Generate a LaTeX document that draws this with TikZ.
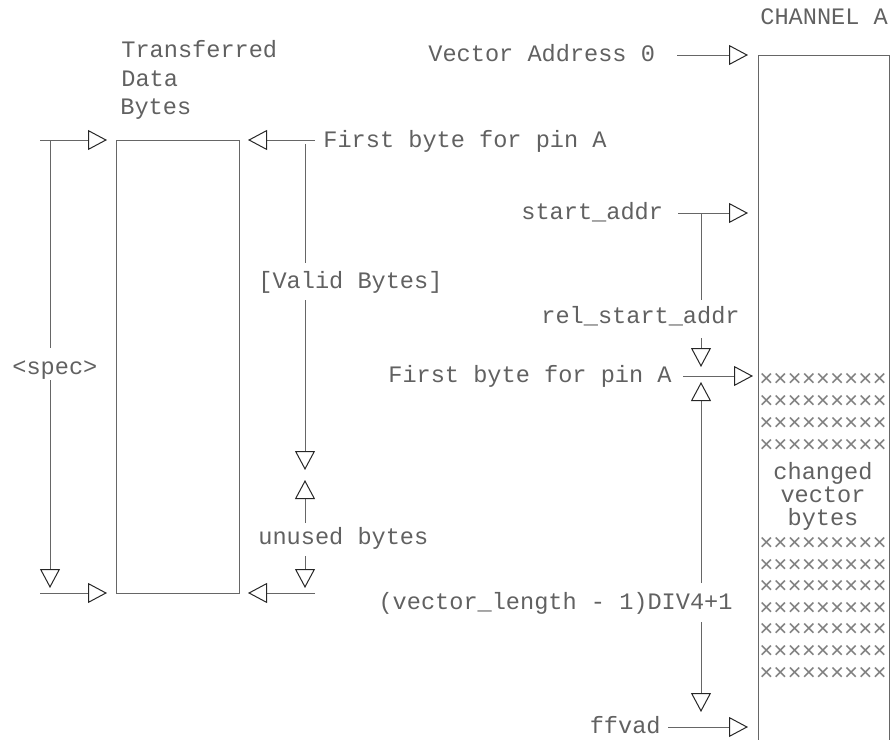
\documentclass[tikz,border=0pt]{standalone}
\usepackage{fontspec}
\setmonofont{Liberation Mono}
\usetikzlibrary{arrows.meta,positioning}

\tikzset{
  txt/.style={font=\ttfamily\fontsize{11.8}{14}\selectfont, text=black!62,
    inner sep=0pt, text height=0.62em, text depth=0pt, anchor=west},
  dimline/.style={draw=black!60, line width=0.5pt},
  hollow/.style={dimline, -{Triangle[open, length=9.5pt, width=10pt, color=black!85]}},
}

\begin{document}
\begin{tikzpicture}[x=0.5pt, y=-0.5pt]
  \useasboundingbox (0,0) rectangle (891,740);

  % transferred data block
  \coordinate (xfer-tl) at (116,140);
  \coordinate (xfer-br) at (239,593);
  \draw[dimline] (xfer-tl) rectangle (xfer-br);
  \node[txt] (xfer1) at (121,51) {Transferred};
  \node[txt] (xfer2) at (121,80) {Data};
  \node[txt] (xfer3) at (120,108) {Bytes};

  % left dimension
  \coordinate (lt0) at (40,140);   \coordinate (lt1) at (107,140);
  \coordinate (lb0) at (40,593);   \coordinate (lb1) at (107,593);
  \coordinate (sa) at (50,140);    \coordinate (sb) at (50,348);
  \coordinate (sc) at (50,380);    \coordinate (sd) at (50,588);
  \node[txt] (spec) at (12,368) {<spec>};
  \draw[hollow] (lt0) -- (lt1);
  \draw[hollow] (lb0) -- (lb1);
  \draw[dimline] (sa) -- (sb);
  \draw[hollow] (sc) -- (sd);

  % right dimension of block
  \coordinate (rt0) at (315,140);  \coordinate (rt1) at (248,140);
  \coordinate (rb0) at (315,593);  \coordinate (rb1) at (248,593);
  \node[txt] (first1) at (323,141) {First byte for pin A};
  \node[txt] (valid) at (258,282) {[Valid Bytes]};
  \node[txt] (unused) at (258,538) {unused bytes};
  \coordinate (va) at (305,144);   \coordinate (vb) at (305,263);
  \coordinate (vc) at (305,300);   \coordinate (vd) at (305,470);
  \coordinate (ua) at (305,523);   \coordinate (ub) at (305,480);
  \coordinate (uc) at (305,556);   \coordinate (ud) at (305,588);
  \draw[hollow] (rt0) -- (rt1);
  \draw[hollow] (rb0) -- (rb1);
  \draw[dimline] (va) -- (vb);
  \draw[hollow] (vc) -- (vd);
  \draw[hollow] (ua) -- (ub);
  \draw[hollow] (uc) -- (ud);

  % channel A memory
  \node[txt] (chan) at (760,18) {CHANNEL A};
  \coordinate (ch-bl) at (758,740);  \coordinate (ch-tl) at (758,55);
  \coordinate (ch-tr) at (889,55);   \coordinate (ch-br) at (889,740);
  \draw[dimline] (ch-bl) -- (ch-tl) -- (ch-tr) -- (ch-br);
  \foreach \y in {380,402,424,446,544,566,587,609,630,652,674}
    \node[txt, anchor=center, text=black!50] (xx-\y) at (823,\y) {×××××××××};
  \node[txt, anchor=center] (chg1) at (823,473) {changed};
  \node[txt, anchor=center] (chg2) at (823,496) {vector};
  \node[txt, anchor=center] (chg3) at (823,519) {bytes};

  % addresses
  \node[txt] (vaddr) at (428,55) {Vector Address 0};
  \node[txt] (start) at (521,213) {start\_addr};
  \node[txt] (rel) at (541,317) {rel\_start\_addr};
  \node[txt, anchor=east] (first2) at (672,376) {First byte for pin A};
  \node[txt, anchor=east] (vlen) at (733,603) {(vector\_length - 1)DIV4+1};
  \node[txt, anchor=east] (ffvad) at (661,727) {ffvad};
  \coordinate (a0) at (677,55);   \coordinate (a1) at (748,55);
  \coordinate (b0) at (678,213);  \coordinate (b1) at (748,213);
  \coordinate (c0) at (683,376);  \coordinate (c1) at (753,376);
  \coordinate (d0) at (668,727);  \coordinate (d1) at (748,727);
  \coordinate (ra) at (701,213);  \coordinate (rb) at (701,300);
  \coordinate (rc) at (701,338);  \coordinate (rd) at (701,367);
  \coordinate (la) at (701,583);  \coordinate (lb) at (701,382);
  \coordinate (lc) at (701,622);  \coordinate (ld) at (701,712);
  \draw[hollow] (a0) -- (a1);
  \draw[hollow] (b0) -- (b1);
  \draw[hollow] (c0) -- (c1);
  \draw[hollow] (d0) -- (d1);
  \draw[dimline] (ra) -- (rb);
  \draw[hollow] (rc) -- (rd);
  \draw[hollow] (la) -- (lb);
  \draw[hollow] (lc) -- (ld);
\end{tikzpicture}
\end{document}
